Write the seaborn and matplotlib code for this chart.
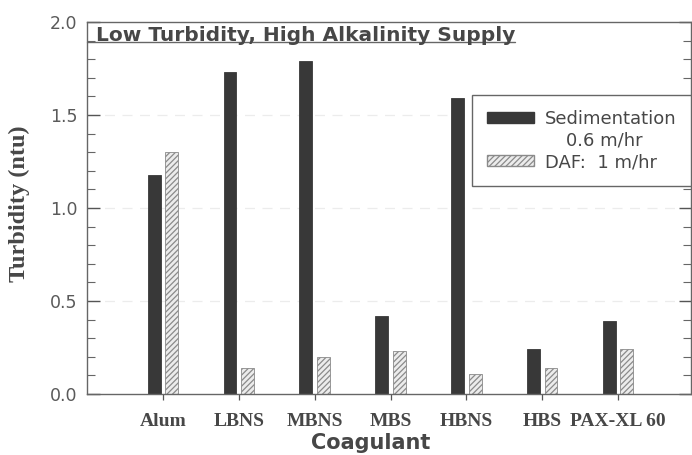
import matplotlib
matplotlib.use("Agg")
import matplotlib.pyplot as plt
from matplotlib.patches import Patch
from matplotlib.ticker import MultipleLocator, FormatStrFormatter
import seaborn as sns
import pandas as pd

# Coagulant trial results (turbidity in ntu)
coagulants = ["Alum", "LBNS", "MBNS", "MBS", "HBNS", "HBS", "PAX-XL 60"]
sedimentation = [1.18, 1.73, 1.79, 0.42, 1.59, 0.24, 0.39]
daf = [1.30, 0.14, 0.20, 0.23, 0.11, 0.14, 0.24]
series_names = ["Sedimentation", "DAF:  1 m/hr"]
sed_rate = "0.6 m/hr"
title = "Low Turbidity, High Alkalinity Supply"

df = pd.DataFrame({
    "Coagulant": coagulants * 2,
    "Process": [series_names[0]] * len(coagulants) + [series_names[1]] * len(coagulants),
    "Turbidity": sedimentation + daf,
})

sns.set_style("white")
plt.rcParams["hatch.linewidth"] = 0.9

text_gray = "#474747"
label_gray = "#5a5a5a"
dark = "#383838"
light = "#ececec"
hatch_col = "#8a8a8a"
spine_col = "#666666"

fig = plt.figure(figsize=(6.92, 4.55), dpi=100)
ax = fig.add_axes([87 / 692, 1 - 394 / 455, (691 - 87) / 692, (394 - 22) / 455])

sns.barplot(
    data=df, x="Coagulant", y="Turbidity", hue="Process",
    hue_order=series_names, order=coagulants,
    palette={series_names[0]: dark, series_names[1]: light},
    width=0.46, gap=0.26, legend=False, ax=ax, errorbar=None,
    saturation=1,
)

# Solid sedimentation bars, hatched DAF bars
for patch in ax.containers[0]:
    patch.set_edgecolor(dark)
    patch.set_linewidth(0.6)
for patch in ax.containers[1]:
    patch.set_facecolor(light)
    patch.set_edgecolor(hatch_col)
    patch.set_hatch("//////")
    patch.set_linewidth(0.6)

ax.set_xlim(-1, 6.96)
ax.set_ylim(0, 2.0)

# Faint dashed gridlines
for yv in [0.5, 1.0, 1.5]:
    ax.axhline(yv, color="#ececec", lw=0.9, ls=(0, (8, 6)), zorder=0)

ax.yaxis.set_major_locator(MultipleLocator(0.5))
ax.yaxis.set_minor_locator(MultipleLocator(0.1))
ax.yaxis.set_major_formatter(FormatStrFormatter("%.1f"))
ax.tick_params(axis="y", which="major", direction="in", length=9, width=1.0,
               color="#555555", left=True, right=True, labelsize=12.5,
               labelcolor=label_gray, pad=7)
ax.tick_params(axis="y", which="minor", direction="in", length=6, width=0.8,
               color="#666666", left=True, right=True)
ax.tick_params(axis="x", which="major", direction="out", length=4, width=0.9,
               color="#555555", bottom=True, pad=10)
for lbl in ax.get_yticklabels():
    lbl.set_fontfamily("DejaVu Sans")

ax.set_xticks(range(len(coagulants)))
ax.set_xticklabels(coagulants, fontfamily="Liberation Serif", fontweight="bold",
                   fontsize=14, color=text_gray)

for side in ["left", "bottom", "top", "right"]:
    ax.spines[side].set_visible(True)
    ax.spines[side].set_color(spine_col)
    ax.spines[side].set_linewidth(1.0)

ax.set_xlabel("")
ax.set_ylabel("")
fig.text(371 / 692, 1 - 449 / 455, "Coagulant", ha="center", va="baseline",
         fontfamily="DejaVu Sans", fontweight="bold", fontsize=15, color=text_gray)
fig.text(19 / 692, 1 - 204 / 455, "Turbidity (ntu)", ha="center", va="center",
         rotation=90, fontfamily="Liberation Serif", fontweight="bold",
         fontsize=17.5, color=text_gray)

# Panel heading, underlined from the left spine to the end of the text
ttl = ax.text(9 / 604, 0.950, title, transform=ax.transAxes,
              ha="left", va="baseline", fontfamily="DejaVu Sans", fontweight="bold",
              fontsize=14.5, color=text_gray)
fig.canvas.draw()
bb = ttl.get_window_extent().transformed(ax.transAxes.inverted())
ax.plot([0.0, bb.x1], [0.946, 0.946], transform=ax.transAxes, color=spine_col,
        lw=1.0, clip_on=False)

# Legend: the settling rate sits on its own line under "Sedimentation"
handles = [
    Patch(facecolor=dark, edgecolor=dark, label=series_names[0]),
    Patch(facecolor="none", edgecolor="none", label=sed_rate),
    Patch(facecolor=light, edgecolor=hatch_col, hatch="//////", label=series_names[1]),
]
leg = ax.legend(handles=handles, loc="upper right", bbox_to_anchor=(1.0, 0.803),
                frameon=True, fancybox=False, framealpha=1, edgecolor=spine_col,
                prop={"family": "DejaVu Sans", "size": 13},
                handlelength=2.6, handleheight=0.55, handletextpad=0.6,
                borderpad=0.82, labelspacing=0.2, borderaxespad=0)
leg.get_frame().set_linewidth(1.0)
for t in leg.get_texts():
    t.set_color(text_gray)
leg.get_texts()[1].set_x(21)

fig.savefig("out.png", dpi=100)
